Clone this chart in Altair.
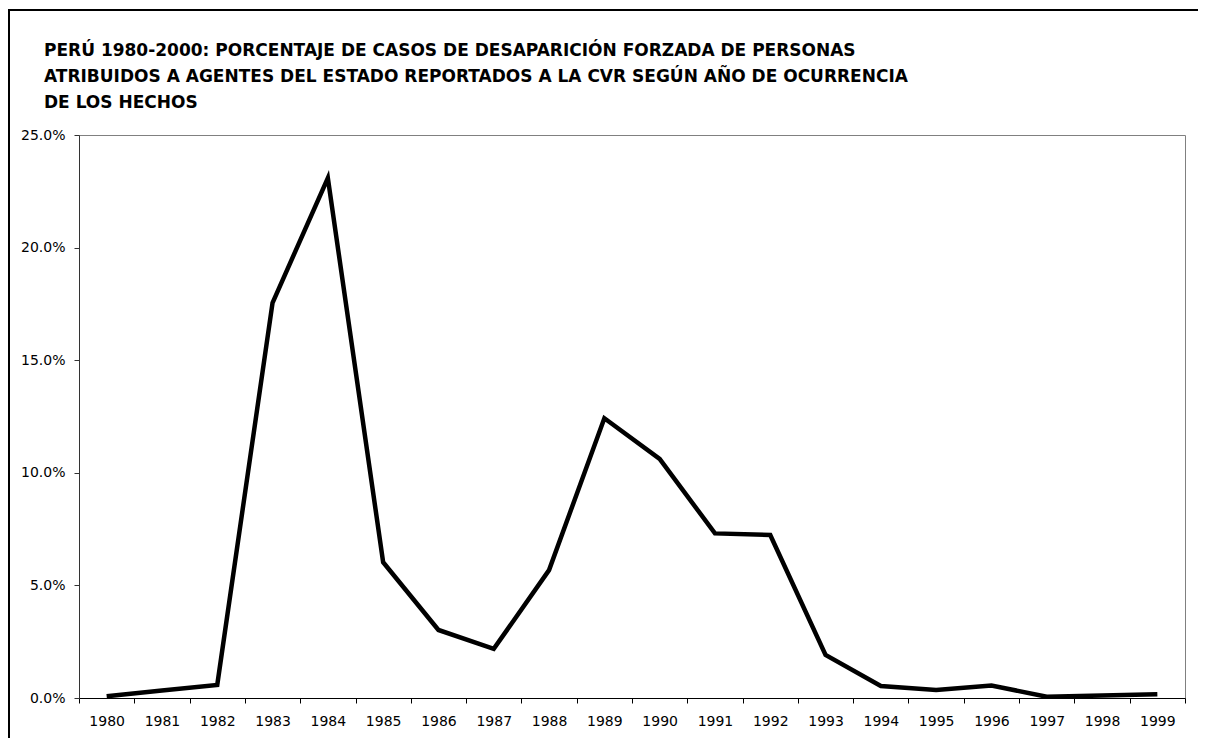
import altair as alt
import pandas as pd

years = [str(y) for y in range(1980, 2000)]
pct = [0.08, 0.33, 0.58, 17.55, 23.09, 6.03, 3.02, 2.18, 5.68, 12.42,
       10.62, 7.31, 7.24, 1.91, 0.53, 0.36, 0.55, 0.06, 0.11, 0.17]
title_lines = [
    "PERÚ 1980-2000: PORCENTAJE DE CASOS DE DESAPARICIÓN FORZADA DE PERSONAS",
    "ATRIBUIDOS A AGENTES DEL ESTADO REPORTADOS A LA CVR SEGÚN AÑO DE OCURRENCIA",
    "DE LOS HECHOS",
]
y_ticks = [0.0, 0.05, 0.10, 0.15, 0.20, 0.25]

df = pd.DataFrame({"year": years, "pct": [v / 100 for v in pct]})

FONT = "DejaVu Sans"

x_enc = alt.X(
    "year:O",
    bandPosition=0.5,
    sort=years,
    scale=alt.Scale(type="band", paddingInner=0, paddingOuter=0),
    axis=alt.Axis(
        title=None, labelAngle=0, tickBand="extent", tickSize=5,
        tickColor="black", domainColor="black", labelColor="black",
        labelFont=FONT, labelFontSize=14, labelPadding=11, grid=False,
    ),
)
y_enc = alt.Y(
    "pct:Q",
    scale=alt.Scale(domain=[0, 0.25], nice=False, zero=True),
    axis=alt.Axis(
        title=None, format=".1%", values=y_ticks, grid=False, tickSize=5,
        tickColor="#333333", domainColor="#333333", labelColor="black",
        labelFont=FONT, labelFontSize=14, labelPadding=9,
    ),
)

border = alt.Chart(pd.DataFrame({"a": [0]})).mark_rect(
    fillOpacity=0, stroke="black", strokeWidth=2
).encode(
    x=alt.value(-70), x2=alt.value(2000), y=alt.value(-125), y2=alt.value(1000)
)

line = alt.Chart(df).mark_line(
    color="black", strokeWidth=4.5, strokeJoin="miter"
).encode(x=x_enc, y=y_enc)

chart = alt.layer(border, line).properties(
    width=1106,
    height=563,
    autosize=alt.AutoSizeParams(type="none"),
    padding={"left": 71, "top": 127, "right": 13, "bottom": 40},
    title=alt.TitleParams(
        text=title_lines, anchor="start", frame="group", font=FONT,
        fontSize=17, fontWeight="bold", color="black", lineHeight=26,
        dx=-35, offset=0, dy=103,
    ),
).configure_view(stroke="#808080", strokeWidth=1)

chart.save("out.html", embed_options={"renderer": "svg", "actions": False})
